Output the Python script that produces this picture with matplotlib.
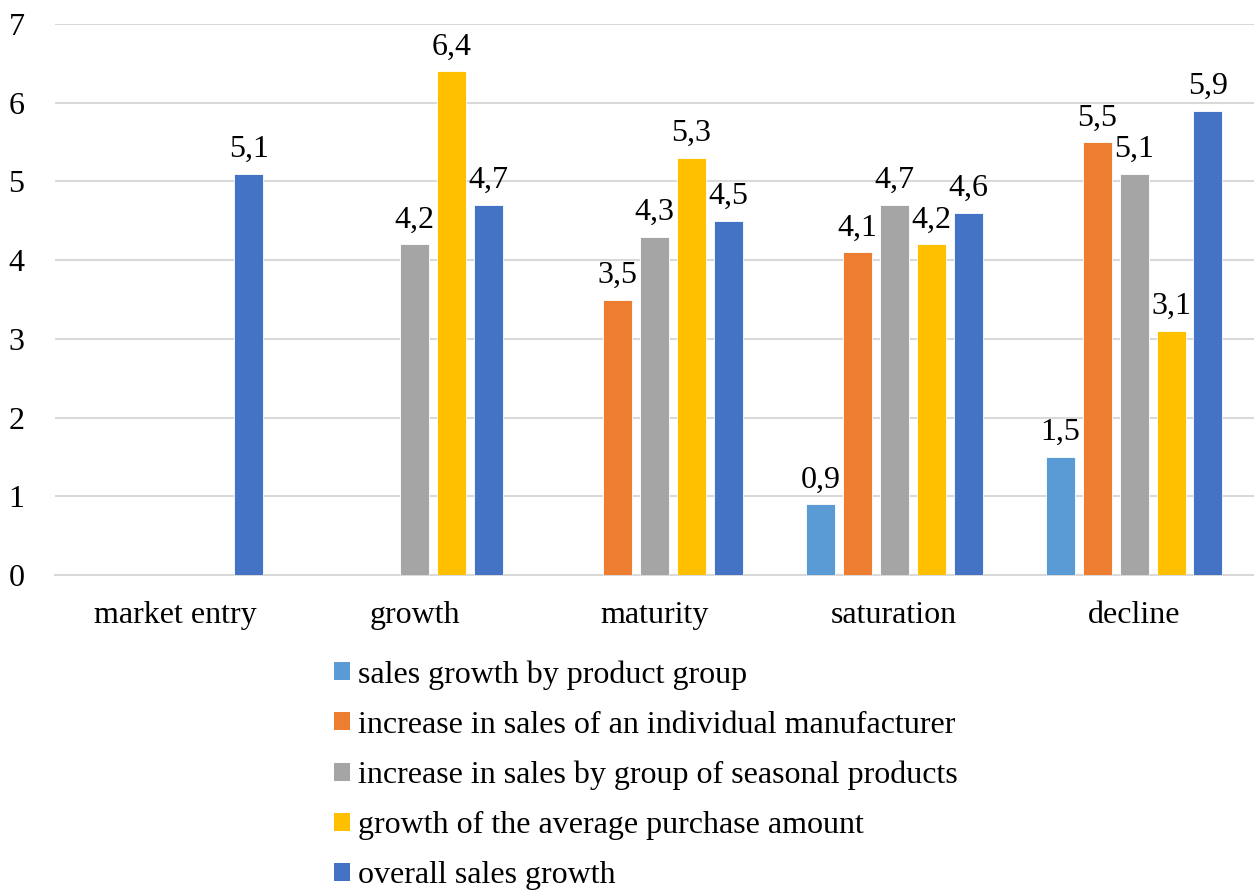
import numpy as np
import matplotlib.pyplot as plt
from matplotlib.patches import Patch

plt.rcParams['font.family'] = ['Liberation Serif', 'DejaVu Serif']

categories = ['market entry', 'growth', 'maturity', 'saturation', 'decline']
series_names = ['sales growth by product group',
                'increase in sales of an individual manufacturer',
                'increase in sales by group of seasonal products',
                'growth of the average purchase amount',
                'overall sales growth']
product_group = [np.nan, np.nan, np.nan, 0.9, 1.5]
individual_manuf = [np.nan, np.nan, 3.5, 4.1, 5.5]
seasonal = [np.nan, 4.2, 4.3, 4.7, 5.1]
avg_purchase = [np.nan, 6.4, 5.3, 4.2, 3.1]
overall = [5.1, 4.7, 4.5, 4.6, 5.9]
colors = ['#5B9BD5', '#ED7D31', '#A5A5A5', '#FFC000', '#4472C4']

series = [product_group, individual_manuf, seasonal, avg_purchase, overall]

fig = plt.figure(figsize=(12.54, 8.93), dpi=100)
ax = fig.add_axes([55 / 1254, 318 / 893, 1199 / 1254, 551 / 893])

x = np.arange(len(categories))
pitch = 0.154
width = 0.121
fs = 23

for k, (vals, col) in enumerate(zip(series, colors)):
    pos = x + (k - 2) * pitch
    vals = np.array(vals, dtype=float)
    ok = ~np.isnan(vals)
    bars = ax.bar(pos[ok], vals[ok], width, color=col, edgecolor='white',
                  linewidth=0.6, zorder=3)
    ax.bar_label(bars, labels=[f'{v:.1f}'.replace('.', ',') for v in vals[ok]],
                 padding=7, fontsize=fs, zorder=4)

ax.set_xlim(-0.5, 4.5)
ax.set_ylim(0, 7)
ax.set_yticks(range(0, 8))
ax.set_xticks(x)
ax.set_xticklabels(categories)
ax.tick_params(axis='both', length=0, labelsize=fs)
ax.tick_params(axis='y', pad=22)
ax.tick_params(axis='x', pad=19)
ax.grid(axis='y', color='#d9d9d9', linewidth=1.5, zorder=0)
for s in ['top', 'right', 'left']:
    ax.spines[s].set_visible(False)
ax.spines['bottom'].set_color('#d9d9d9')
ax.spines['bottom'].set_linewidth(1.5)

handles = [Patch(facecolor=c) for c in colors]
fig.legend(handles, series_names, loc='upper left',
           bbox_to_anchor=(334 / 1254, 1 - 660 / 893),
           frameon=False, fontsize=fs, handlelength=0.5, handleheight=0.5,
           handletextpad=0.25, labelspacing=0.66, borderpad=0, borderaxespad=0)

fig.savefig('out.png', dpi=100)
